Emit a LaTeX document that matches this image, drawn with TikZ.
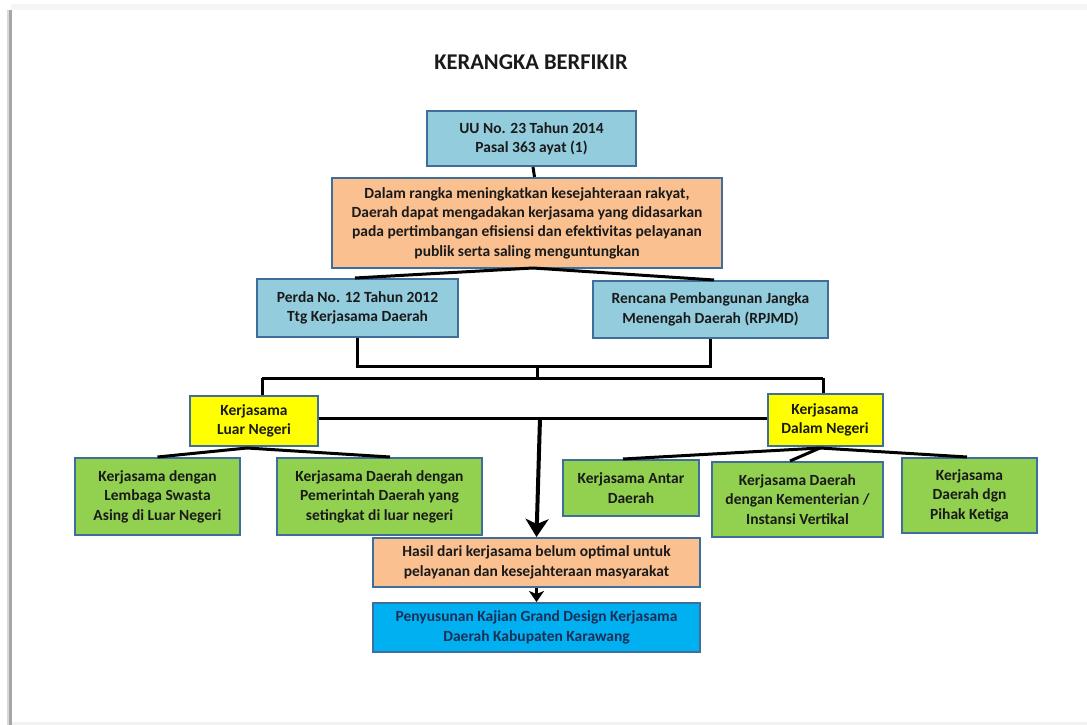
\documentclass[tikz,border=0pt]{standalone}
\usepackage{fontspec}
\setmainfont{Carlito}
\usetikzlibrary{arrows.meta}
\definecolor{edgec}{HTML}{3F6E9C}
\definecolor{lblue}{HTML}{93CDDD}
\definecolor{peach}{HTML}{FAC090}
\definecolor{grn}{HTML}{92D050}
\definecolor{ylw}{HTML}{FFFF00}
\definecolor{sky}{HTML}{00B0F0}
\definecolor{ink}{HTML}{1A1A1A}
\definecolor{navy}{HTML}{1B2F57}
\tikzset{
  box/.style={draw=edgec, line width=2pt, align=center, inner sep=0pt, text=ink,
    font=\bfseries\fontsize{15.5}{19.4}\selectfont},
  lbbox/.style={box, fill=lblue},
  pbox/.style={box, fill=peach},
  gbox/.style={box, fill=grn},
  ybox/.style={box, fill=ylw},
  sbox/.style={box, fill=sky, text=navy},
  sz/.style 2 args={minimum width=#1pt, minimum height=#2pt},
  conn/.style={line width=3pt, draw=black},
}
\begin{document}
\begin{tikzpicture}[x=1pt,y=-1pt]
\useasboundingbox (0,0) rectangle (1087,725);
\fill[white] (0,0) rectangle (1087,725);
% page frame shadow
\fill[black!4] (11,4) rectangle (1087,10);
\fill[black!15] (7,10) rectangle (9,725);
\fill[black!35] (9,10) rectangle (11.5,725);
\fill[black!5] (11.5,722) rectangle (1087,725);

\node[font=\bfseries\fontsize{22.5}{26}\selectfont, text=ink] (title) at (531,62) {KERANGKA BERFIKIR};

\node[lbbox, sz={209}{55}] (uu) at (531.5,138.5) {UU No. 23 Tahun 2014\\Pasal 363 ayat (1)};
\node[pbox, sz={390}{90}] (dalam) at (527,223) {Dalam rangka meningkatkan kesejahteraan rakyat,\\Daerah dapat mengadakan kerjasama yang didasarkan\\pada pertimbangan efisiensi dan efektivitas pelayanan\\publik serta saling menguntungkan};
\node[lbbox, sz={201}{58}] (perda) at (357.5,308) {Perda No. 12 Tahun 2012\\Ttg Kerjasama Daerah};
\node[lbbox, sz={235}{57}] (rpjmd) at (710.5,309.5) {Rencana Pembangunan Jangka\\Menengah Daerah (RPJMD)};
\node[ybox, sz={128}{50}] (luar) at (254,421) {Kerjasama\\Luar Negeri};
\node[ybox, sz={115}{52}] (dneg) at (825,420) {Kerjasama\\Dalam Negeri};
\node[gbox, sz={165}{77}] (g1) at (157.5,496.5) {Kerjasama dengan\\Lembaga Swasta\\Asing di Luar Negeri};
\node[gbox, sz={205}{77}] (g2) at (379.5,496.5) {Kerjasama Daerah dengan\\Pemerintah Daerah yang\\setingkat di luar negeri};
\node[gbox, sz={136}{56}] (g3) at (631,488) {Kerjasama Antar\\Daerah};
\node[gbox, sz={171}{75}] (g4) at (797.5,499.5) {Kerjasama Daerah\\dengan Kementerian /\\Instansi Vertikal};
\node[gbox, sz={135}{75}] (g5) at (969.5,495.5) {Kerjasama\\Daerah dgn\\Pihak Ketiga};
\node[pbox, sz={327}{49}] (hasil) at (536.5,562.5) {Hasil dari kerjasama belum optimal untuk\\pelayanan dan kesejahteraan masyarakat};
\node[sbox, sz={327}{49}] (pen) at (536.5,627.5) {Penyusunan Kajian Grand Design Kerjasama\\Daerah Kabupaten Karawang};

% connectors
\draw[conn] ([xshift=1.5pt]uu.south) -- ([xshift=7.5pt]dalam.north);
\coordinate (ap1) at ([xshift=6pt,yshift=1pt]dalam.south);
\draw[conn] (ap1) -- ([xshift=-2.5pt]perda.north);
\draw[conn] (ap1) -- ([xshift=3.5pt]rpjmd.north);
\coordinate (j1) at (537,366);
\draw[conn] (perda.south) -- (perda.south |- j1) -- (rpjmd.south |- j1) -- (rpjmd.south);
\coordinate (j2) at (537,378);
\draw[conn] (j1) -- (j2);
\coordinate (jl) at (262,378);
\coordinate (jr) at (823,378);
\draw[conn] (jl) -- (jr);
\draw[conn] (jl) -- (jl |- luar.north);
\draw[conn] (jr) -- (jr |- dneg.north);
\coordinate (m) at (540,418);
\draw[conn] (luar.east |- m) -- (dneg.west |- m);
\draw[line width=4pt, -{Stealth[length=18pt,width=23pt,inset=5pt]}] (m) -- (hasil.north);
\draw[line width=3pt, -{Stealth[length=11pt,width=15pt,inset=3pt]}] (hasil.south) -- (pen.north);
% yellow to green
\coordinate (ly) at ([xshift=-7pt,yshift=-1pt]luar.south);
\draw[conn] (ly) -- (g1.north);
\draw[conn] (ly) -- ([xshift=10.5pt]g2.north);
\coordinate (ry) at ([xshift=-5pt,yshift=-1pt]dneg.south);
\draw[conn] (ry) -- ([xshift=-8pt]g3.north);
\draw[conn] (ry) -- ([xshift=-7.5pt]g4.north);
\draw[conn] (ry) -- ([xshift=-2.5pt]g5.north);
\end{tikzpicture}
\end{document}
